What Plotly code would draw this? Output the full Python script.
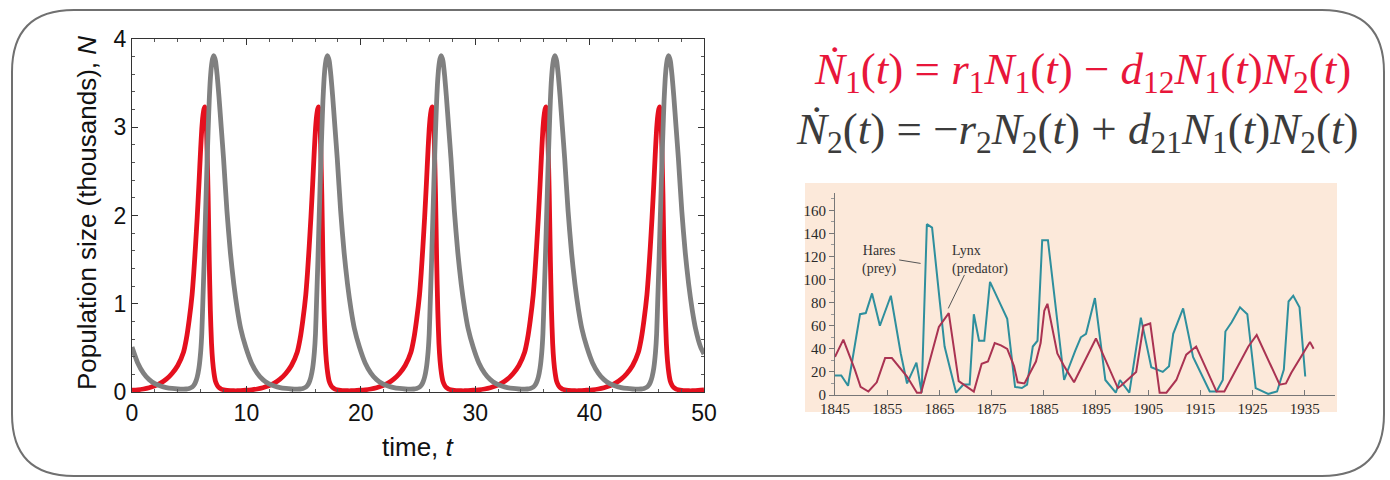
import plotly.graph_objects as go

# ---------------- data: left chart ----------------
time_main = [
    0.00, 0.50, 1.00, 1.50, 2.00, 2.50, 3.00, 3.50, 4.00, 4.50, 4.75, 5.00, 5.25, 5.40, 5.55, 5.70, 5.85, 6.00, 6.10, 6.20,
    6.30, 6.38, 6.46, 6.55, 6.65, 6.75, 6.85, 6.95, 7.05, 7.17, 7.30, 7.45, 7.60, 7.80, 8.00, 8.30, 8.60, 8.90, 9.20, 9.50,
    9.94, 10.44, 10.94, 11.44, 11.94, 12.44, 12.94, 13.44, 13.94, 14.44, 14.69, 14.94, 15.19, 15.34, 15.49, 15.64, 15.79, 15.94, 16.04, 16.14,
    16.24, 16.32, 16.40, 16.49, 16.59, 16.69, 16.79, 16.89, 16.99, 17.11, 17.24, 17.39, 17.54, 17.74, 17.94, 18.24, 18.54, 18.84, 19.14, 19.44,
    19.88, 20.38, 20.88, 21.38, 21.88, 22.38, 22.88, 23.38, 23.88, 24.38, 24.63, 24.88, 25.13, 25.28, 25.43, 25.58, 25.73, 25.88, 25.98, 26.08,
    26.18, 26.26, 26.34, 26.43, 26.53, 26.63, 26.73, 26.83, 26.93, 27.05, 27.18, 27.33, 27.48, 27.68, 27.88, 28.18, 28.48, 28.78, 29.08, 29.38,
    29.82, 30.32, 30.82, 31.32, 31.82, 32.32, 32.82, 33.32, 33.82, 34.32, 34.57, 34.82, 35.07, 35.22, 35.37, 35.52, 35.67, 35.82, 35.92, 36.02,
    36.12, 36.20, 36.28, 36.37, 36.47, 36.57, 36.67, 36.77, 36.87, 36.99, 37.12, 37.27, 37.42, 37.62, 37.82, 38.12, 38.42, 38.72, 39.02, 39.32,
    39.76, 40.26, 40.76, 41.26, 41.76, 42.26, 42.76, 43.26, 43.76, 44.26, 44.51, 44.76, 45.01, 45.16, 45.31, 45.46, 45.61, 45.76, 45.86, 45.96,
    46.06, 46.14, 46.22, 46.31, 46.41, 46.51, 46.61, 46.71, 46.81, 46.93, 47.06, 47.21, 47.36, 47.56, 47.76, 48.06, 48.36, 48.66, 48.96, 49.26,
    49.70, 50.00,
]

prey_N1 = [
    0.020, 0.025, 0.034, 0.048, 0.070, 0.100, 0.145, 0.210, 0.300, 0.450, 0.600, 0.820, 1.100, 1.350, 1.650, 1.980, 2.350, 2.750, 2.980, 3.130,
    3.210, 3.230, 3.150, 2.800, 2.250, 1.500, 0.920, 0.550, 0.350, 0.210, 0.120, 0.075, 0.050, 0.033, 0.025, 0.018, 0.015, 0.014, 0.014, 0.016,
    0.020, 0.025, 0.034, 0.048, 0.070, 0.100, 0.145, 0.210, 0.300, 0.450, 0.600, 0.820, 1.100, 1.350, 1.650, 1.980, 2.350, 2.750, 2.980, 3.130,
    3.210, 3.230, 3.150, 2.800, 2.250, 1.500, 0.920, 0.550, 0.350, 0.210, 0.120, 0.075, 0.050, 0.033, 0.025, 0.018, 0.015, 0.014, 0.014, 0.016,
    0.020, 0.025, 0.034, 0.048, 0.070, 0.100, 0.145, 0.210, 0.300, 0.450, 0.600, 0.820, 1.100, 1.350, 1.650, 1.980, 2.350, 2.750, 2.980, 3.130,
    3.210, 3.230, 3.150, 2.800, 2.250, 1.500, 0.920, 0.550, 0.350, 0.210, 0.120, 0.075, 0.050, 0.033, 0.025, 0.018, 0.015, 0.014, 0.014, 0.016,
    0.020, 0.025, 0.034, 0.048, 0.070, 0.100, 0.145, 0.210, 0.300, 0.450, 0.600, 0.820, 1.100, 1.350, 1.650, 1.980, 2.350, 2.750, 2.980, 3.130,
    3.210, 3.230, 3.150, 2.800, 2.250, 1.500, 0.920, 0.550, 0.350, 0.210, 0.120, 0.075, 0.050, 0.033, 0.025, 0.018, 0.015, 0.014, 0.014, 0.016,
    0.020, 0.025, 0.034, 0.048, 0.070, 0.100, 0.145, 0.210, 0.300, 0.450, 0.600, 0.820, 1.100, 1.350, 1.650, 1.980, 2.350, 2.750, 2.980, 3.130,
    3.210, 3.230, 3.150, 2.800, 2.250, 1.500, 0.920, 0.550, 0.350, 0.210, 0.120, 0.075, 0.050, 0.033, 0.025, 0.018, 0.015, 0.014, 0.014, 0.016,
    0.020, 0.023,
]

predator_N2 = [
    0.510, 0.330, 0.215, 0.140, 0.095, 0.068, 0.050, 0.040, 0.034, 0.032, 0.034, 0.040, 0.055, 0.075, 0.110, 0.170, 0.270, 0.450, 0.660, 1.050,
    1.450, 1.800, 2.150, 2.550, 2.950, 3.300, 3.550, 3.700, 3.780, 3.810, 3.750, 3.580, 3.350, 3.000, 2.650, 2.050, 1.580, 1.220, 0.940, 0.720,
    0.510, 0.330, 0.215, 0.140, 0.095, 0.068, 0.050, 0.040, 0.034, 0.032, 0.034, 0.040, 0.055, 0.075, 0.110, 0.170, 0.270, 0.450, 0.660, 1.050,
    1.450, 1.800, 2.150, 2.550, 2.950, 3.300, 3.550, 3.700, 3.780, 3.810, 3.750, 3.580, 3.350, 3.000, 2.650, 2.050, 1.580, 1.220, 0.940, 0.720,
    0.510, 0.330, 0.215, 0.140, 0.095, 0.068, 0.050, 0.040, 0.034, 0.032, 0.034, 0.040, 0.055, 0.075, 0.110, 0.170, 0.270, 0.450, 0.660, 1.050,
    1.450, 1.800, 2.150, 2.550, 2.950, 3.300, 3.550, 3.700, 3.780, 3.810, 3.750, 3.580, 3.350, 3.000, 2.650, 2.050, 1.580, 1.220, 0.940, 0.720,
    0.510, 0.330, 0.215, 0.140, 0.095, 0.068, 0.050, 0.040, 0.034, 0.032, 0.034, 0.040, 0.055, 0.075, 0.110, 0.170, 0.270, 0.450, 0.660, 1.050,
    1.450, 1.800, 2.150, 2.550, 2.950, 3.300, 3.550, 3.700, 3.780, 3.810, 3.750, 3.580, 3.350, 3.000, 2.650, 2.050, 1.580, 1.220, 0.940, 0.720,
    0.510, 0.330, 0.215, 0.140, 0.095, 0.068, 0.050, 0.040, 0.034, 0.032, 0.034, 0.040, 0.055, 0.075, 0.110, 0.170, 0.270, 0.450, 0.660, 1.050,
    1.450, 1.800, 2.150, 2.550, 2.950, 3.300, 3.550, 3.700, 3.780, 3.810, 3.750, 3.580, 3.350, 3.000, 2.650, 2.050, 1.580, 1.220, 0.940, 0.720,
    0.510, 0.430,
]

main_xticks = [0, 10, 20, 30, 40, 50]
main_yticks = [0, 1, 2, 3, 4]

# ---------------- data: inset (hares & lynx) ----------------
hare_years = [1845, 1846.2, 1847.5, 1849.8, 1850.9, 1852.1, 1853.6, 1855.7, 1857.6, 1858.8, 1860.6, 1861.6, 1862.6, 1863.6,
              1865.1, 1866.0, 1868.2, 1869.6, 1870.8, 1871.6, 1872.6, 1873.6, 1874.7, 1876.2, 1878.0, 1879.5, 1880.8, 1881.8,
              1882.9, 1883.8, 1884.7, 1885.8, 1888.9, 1891.0, 1892.1, 1893.1, 1894.8, 1896.8, 1898.8, 1899.6, 1901.4, 1903.6,
              1905.6, 1907.8, 1909.0, 1909.8, 1911.7, 1913.6, 1916.8, 1918.1, 1919.3, 1919.8, 1921.0, 1922.6, 1924.0, 1925.6,
              1928.0, 1929.7, 1931.0, 1931.9, 1932.8, 1934.0, 1935.1]
hare_values = [17, 17, 8, 70, 71, 88, 60, 86, 36, 10, 28, 2, 148, 145,
               80, 42, 2, 9, 9, 70, 47, 47, 98, 84, 66, 7, 6, 9,
               42, 47, 134, 134, 13, 38, 50, 53, 84, 13, 2, 13, 2, 67,
               24, 20, 25, 53, 75, 33, 3, 3, 13, 55, 63, 76, 70, 6,
               1, 3, 22, 81, 86, 76, 16]

lynx_years = [1845, 1846.6, 1848.8, 1849.9, 1851.4, 1853.0, 1854.6, 1855.9, 1858.8, 1860.7, 1861.5, 1864.9, 1866.8, 1868.7,
              1871.6, 1873.1, 1874.3, 1875.6, 1876.8, 1878.0, 1879.3, 1880.0, 1881.3, 1883.5, 1884.4, 1885.1, 1885.7, 1887.6,
              1888.9, 1890.8, 1895.0, 1899.2, 1899.8, 1902.7, 1904.1, 1905.4, 1907.2, 1908.5, 1910.4, 1912.3, 1914.2, 1918.1,
              1919.6, 1924.2, 1925.8, 1930.2, 1931.4, 1932.4, 1936.0, 1936.7]
lynx_values = [33, 48, 22, 7, 3, 11, 32, 32, 16, 2, 2, 59, 71, 12,
               3, 27, 29, 45, 43, 40, 25, 11, 10, 29, 45, 73, 79, 36,
               25, 11, 49, 6, 8, 20, 60, 62, 2, 2, 13, 35, 42, 3,
               3, 42, 52, 9, 10, 19, 46, 40]

inset_xticks = [1845, 1855, 1865, 1875, 1885, 1895, 1905, 1915, 1925, 1935]
inset_yticks = [0, 20, 40, 60, 80, 100, 120, 140, 160]

# ---------------- styles ----------------
W, H = 1390, 480
RED = "#e5101e"
GRAY = "#808080"
TEAL = "#2e8f9d"
CRIMSON = "#aa3352"
PEACH = "#fce9da"


def px(x):
    return x / W


def py(y):
    return 1 - y / H


fig = go.Figure()

fig.add_trace(go.Scatter(x=time_main, y=prey_N1, mode="lines", name="N1",
                         line=dict(color=RED, width=4.8, shape="spline", smoothing=0.6),
                         xaxis="x", yaxis="y", showlegend=False))
fig.add_trace(go.Scatter(x=time_main, y=predator_N2, mode="lines", name="N2",
                         line=dict(color=GRAY, width=4.8, shape="spline", smoothing=0.6),
                         xaxis="x", yaxis="y", showlegend=False))

fig.add_trace(go.Scatter(x=hare_years, y=hare_values, mode="lines", name="Hares",
                         line=dict(color=TEAL, width=2), xaxis="x2", yaxis="y2", showlegend=False))
fig.add_trace(go.Scatter(x=lynx_years, y=lynx_values, mode="lines", name="Lynx",
                         line=dict(color=CRIMSON, width=2), xaxis="x2", yaxis="y2", showlegend=False))

sans = "Liberation Sans, Arial, sans-serif"
serif = "Liberation Serif, Times New Roman, serif"
axis_font = dict(family=sans, size=23, color="#111")
serif_small = dict(family=serif, size=15, color="#2a2a2a")

fig.update_layout(
    template="none",
    width=W, height=H, autosize=False,
    margin=dict(l=0, r=0, t=0, b=0, pad=0),
    paper_bgcolor="white", plot_bgcolor="rgba(0,0,0,0)",
    showlegend=False,
    xaxis=dict(domain=[px(132), px(704)], range=[0, 50], tickvals=main_xticks, automargin=False,
               ticks="inside", ticklen=6, tickwidth=1, tickcolor="#333",
               minor=dict(dtick=2, ticks="inside", ticklen=3, tickcolor="#555"),
               showline=True, linecolor="#333", linewidth=1, mirror="allticks",
               showgrid=False, zeroline=False, tickfont=axis_font, anchor="y"),
    yaxis=dict(domain=[py(392), py(39)], range=[0, 4], tickvals=main_yticks, automargin=False,
               ticks="inside", ticklen=6, tickwidth=1, tickcolor="#333",
               minor=dict(dtick=0.2, ticks="inside", ticklen=3, tickcolor="#555"),
               showline=True, linecolor="#333", linewidth=1, mirror="allticks",
               showgrid=False, zeroline=False, tickfont=axis_font, anchor="x"),
    xaxis2=dict(domain=[px(835), px(1335)], range=[1845, 1940.8], tickvals=inset_xticks, automargin=False,
                ticks="inside", ticklen=5, tickcolor="#777",
                showline=True, linecolor="#777", linewidth=1,
                showgrid=False, zeroline=False, tickfont=serif_small, anchor="y2"),
    yaxis2=dict(domain=[py(395), py(193)], range=[0, 175], tickvals=inset_yticks, automargin=False,
                ticks="outside", ticklen=5, tickcolor="#777",
                minor=dict(dtick=10, ticks="outside", ticklen=3, tickcolor="#999"),
                showline=True, linecolor="#777", linewidth=1,
                showgrid=False, zeroline=False, tickfont=serif_small, anchor="x2"),
)

# peach background of the inset figure (layer below)
fig.add_shape(type="rect", xref="paper", yref="paper", x0=px(805), x1=px(1337), y0=py(412), y1=py(183),
              fillcolor=PEACH, line=dict(width=0), layer="below")

# rounded slide border
L, R, T, B, r = 12, 1384, 10, 476, 62
path = (f"M {px(L + r)},{py(T)} L {px(R - r)},{py(T)} Q {px(R)},{py(T)} {px(R)},{py(T + r)} "
        f"L {px(R)},{py(B - r)} Q {px(R)},{py(B)} {px(R - r)},{py(B)} "
        f"L {px(L + r)},{py(B)} Q {px(L)},{py(B)} {px(L)},{py(B - r)} "
        f"L {px(L)},{py(T + r)} Q {px(L)},{py(T)} {px(L + r)},{py(T)} Z")
fig.add_shape(type="path", xref="paper", yref="paper", path=path,
              line=dict(color="#707070", width=2))

# axis titles of the left chart
fig.add_annotation(x=px(418), y=py(447), xref="paper", yref="paper", showarrow=False,
                   xanchor="center", yanchor="middle",
                   text="time, <i>t</i>", font=dict(family=sans, size=26, color="#111"))
fig.add_annotation(x=px(87), y=py(213), xref="paper", yref="paper", showarrow=False, textangle=-90,
                   xanchor="center", yanchor="middle",
                   text="Population size (thousands), <i>N</i>",
                   font=dict(family=sans, size=26, color="#111"))

# equations
eq1 = ("<i>Ṅ</i><sub>1</sub>(<i>t</i>) = <i>r</i><sub>1</sub><i>N</i><sub>1</sub>(<i>t</i>) − "
       "<i>d</i><sub>12</sub><i>N</i><sub>1</sub>(<i>t</i>)<i>N</i><sub>2</sub>(<i>t</i>)")
eq2 = ("<i>Ṅ</i><sub>2</sub>(<i>t</i>) = −<i>r</i><sub>2</sub><i>N</i><sub>2</sub>(<i>t</i>) + "
       "<i>d</i><sub>21</sub><i>N</i><sub>1</sub>(<i>t</i>)<i>N</i><sub>2</sub>(<i>t</i>)")
fig.add_annotation(x=px(1082), y=py(72), xref="paper", yref="paper", showarrow=False,
                   xanchor="center", yanchor="middle",
                   text=eq1, font=dict(family=serif, size=45, color="#e8163a"))
fig.add_annotation(x=px(1077), y=py(132), xref="paper", yref="paper", showarrow=False,
                   xanchor="center", yanchor="middle",
                   text=eq2, font=dict(family=serif, size=45, color="#3c3c3c"))

# inset labels
fig.add_annotation(x=1853.6, y=117, xref="x2", yref="y2", showarrow=False, align="center",
                   xanchor="center", yanchor="middle",
                   text="Hares<br>(prey)", font=dict(family=serif, size=14, color="#333"))
fig.add_annotation(x=1867.0, y=117, xref="x2", yref="y2", showarrow=False, align="left",
                   xanchor="left", yanchor="middle",
                   text="Lynx<br>(predator)", font=dict(family=serif, size=14, color="#333"))
fig.add_shape(type="line", xref="x2", yref="y2", x0=1857.3, y0=117, x1=1861.4, y1=114,
              line=dict(color="#555", width=1))
fig.add_shape(type="line", xref="x2", yref="y2", x0=1869.8, y0=104, x1=1866.7, y1=75,
              line=dict(color="#555", width=1))

fig.write_html("out.html")
